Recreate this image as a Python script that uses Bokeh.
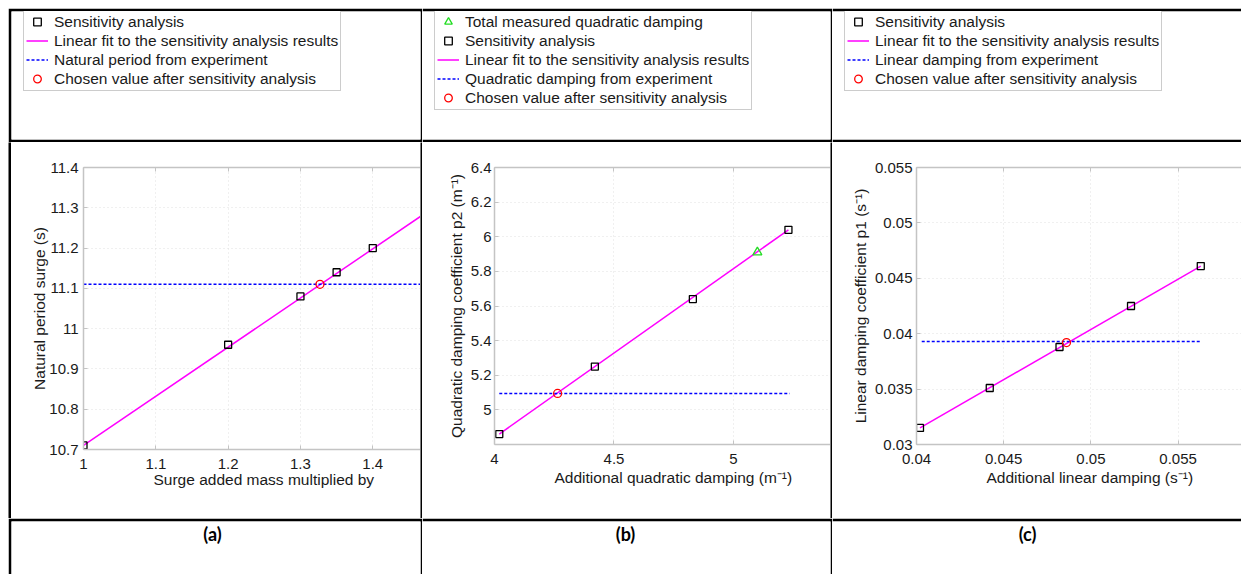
from bokeh.plotting import figure
from bokeh.models import (Range1d, FixedTicker, LinearAxis, Legend, LegendItem,
                          Label, Spacer, Title)
from bokeh.layouts import row, column
from bokeh.embed import file_html
from bokeh.resources import INLINE

FONT = "Liberation Sans"
AXIS_GREY = "#c4c4c4"
TXT = "#1a1a1a"

# ---------------- data: panel (a) ----------------
a_sens_x = [1, 1.2, 1.3, 1.35, 1.4]
a_sens_y = [10.71, 10.96, 11.08, 11.14, 11.20]
a_fit_x = [1.0, 1.5]
a_fit_y = [10.71, 11.32]
a_exp_x = [1.0, 1.5]
a_exp_y = [11.11, 11.11]
a_chosen_x = [1.327]
a_chosen_y = [11.11]
a_xticks = [1, 1.1, 1.2, 1.3, 1.4]
a_xtick_labels = ["1", "1.1", "1.2", "1.3", "1.4"]
a_yticks = [10.7, 10.8, 10.9, 11, 11.1, 11.2, 11.3, 11.4]
a_ytick_labels = ["10.7", "10.8", "10.9", "11", "11.1", "11.2", "11.3", "11.4"]

# ---------------- data: panel (b) ----------------
b_total_x = [5.10]
b_total_y = [5.91]
b_sens_x = [4.02, 4.42, 4.83, 5.23]
b_sens_y = [4.86, 5.25, 5.64, 6.04]
b_fit_x = [4.02, 5.23]
b_fit_y = [4.86, 6.04]
b_exp_x = [4.02, 5.235]
b_exp_y = [5.095, 5.095]
b_chosen_x = [4.264]
b_chosen_y = [5.095]
b_xticks = [4, 4.5, 5]
b_xtick_labels = ["4", "4.5", "5"]
b_yticks = [5, 5.2, 5.4, 5.6, 5.8, 6, 6.2, 6.4]
b_ytick_labels = ["5", "5.2", "5.4", "5.6", "5.8", "6", "6.2", "6.4"]

# ---------------- data: panel (c) ----------------
c_sens_x = [0.0402, 0.0442, 0.0482, 0.0523, 0.0563]
c_sens_y = [0.0315, 0.0351, 0.0388, 0.0425, 0.0461]
c_fit_x = [0.0402, 0.0563]
c_fit_y = [0.0315, 0.0461]
c_exp_x = [0.0403, 0.0563]
c_exp_y = [0.0393, 0.0393]
c_chosen_x = [0.0486]
c_chosen_y = [0.0392]
c_xticks = [0.04, 0.045, 0.05, 0.055]
c_xtick_labels = ["0.04", "0.045", "0.05", "0.055"]
c_yticks = [0.03, 0.035, 0.04, 0.045, 0.05, 0.055]
c_ytick_labels = ["0.03", "0.035", "0.04", "0.045", "0.05", "0.055"]

panel_letters = ["(a)", "(b)", "(c)"]

legend_a = ["Sensitivity analysis",
            "Linear fit to the sensitivity analysis results",
            "Natural period from experiment",
            "Chosen value after sensitivity analysis"]
legend_b = ["Total measured quadratic damping",
            "Sensitivity analysis",
            "Linear fit to the sensitivity analysis results",
            "Quadratic damping from experiment",
            "Chosen value after sensitivity analysis"]
legend_c = ["Sensitivity analysis",
            "Linear fit to the sensitivity analysis results",
            "Linear damping from experiment",
            "Chosen value after sensitivity analysis"]

# ---------------- styles ----------------
STY_SENS = dict(marker="square", size=7, line_color="black", line_width=1.3,
                fill_color=None)
STY_FIT = dict(line_color="#ff00ff", line_width=1.5)
STY_EXP = dict(line_color="#0000ff", line_width=1.5, line_dash="3 2")
STY_CH = dict(marker="circle", size=8, line_color="#ff0000", line_width=1.3,
              fill_color=None)
STY_TOT = dict(marker="triangle", size=9, line_color="#22dd22", line_width=1.3,
               fill_color=None)

TICK_FS = "15px"
LABEL_FS = "15.5px"


def blank(width, height, bl=0, br=0, bt=0, bb=0, border="white", bg="white"):
    p = figure(width=width, height=height, x_range=Range1d(-10, -9),
               y_range=Range1d(-10, -9), output_backend="svg",
               toolbar_location=None, x_axis_location=None,
               y_axis_location=None, min_border_left=bl, min_border_right=br,
               min_border_top=bt, min_border_bottom=bb,
               background_fill_color=bg, border_fill_color=border)
    p.outline_line_color = None
    p.grid.visible = False
    return p


def black_strip(width, height):
    return blank(width, height, border="black", bg="black")


def make_plot(width, border_left, frame_bottom_margin, xr, yr,
              xticks, xlabels, yticks, ylabels, ytitle, xtitle,
              ytick_standoff, ytitle_standoff, xtitle_offset, xtitle_standoff):
    p = figure(width=width, height=376, x_range=Range1d(*xr), y_range=Range1d(*yr),
               output_backend="svg", toolbar_location=None,
               min_border_left=border_left, min_border_right=0,
               min_border_top=25, min_border_bottom=frame_bottom_margin,
               background_fill_color="white", border_fill_color="white")
    p.outline_line_color = None

    xa = p.xaxis[0]
    ya = p.yaxis[0]
    xa.ticker = FixedTicker(ticks=xticks)
    ya.ticker = FixedTicker(ticks=yticks)
    xa.major_label_overrides = dict(zip(xticks, xlabels))
    ya.major_label_overrides = dict(zip(yticks, ylabels))
    for ax in (xa, ya):
        ax.axis_line_color = AXIS_GREY
        ax.axis_line_width = 1.5
        ax.major_tick_line_color = AXIS_GREY
        ax.major_tick_in = 4
        ax.major_tick_out = 0
        ax.minor_tick_line_color = None
        ax.major_label_text_font = FONT
        ax.major_label_text_font_size = TICK_FS
        ax.major_label_text_color = TXT
        ax.axis_label_text_font = FONT
        ax.axis_label_text_font_size = LABEL_FS
        ax.axis_label_text_font_style = "normal"
        ax.axis_label_text_color = TXT
    xa.major_label_standoff = 9
    ya.major_label_standoff = ytick_standoff
    ya.axis_label = ytitle
    ya.axis_label_standoff = ytitle_standoff

    # x-axis title: centred on the full (clipped) axes box, as in the source
    p.add_layout(Title(text=xtitle, align="left", offset=xtitle_offset,
                       standoff=xtitle_standoff, text_font=FONT,
                       text_font_size=LABEL_FS, text_font_style="normal",
                       text_color=TXT), "below")

    top = LinearAxis(ticker=FixedTicker(ticks=xticks))
    top.axis_line_color = AXIS_GREY
    top.axis_line_width = 1.5
    top.major_tick_line_color = AXIS_GREY
    top.major_tick_in = 4
    top.major_tick_out = 0
    top.minor_tick_line_color = None
    top.major_label_text_color = None
    top.major_label_text_font_size = "8px"
    top.major_label_standoff = 0
    p.add_layout(top, "above")

    for g in (p.xgrid[0], p.ygrid[0]):
        g.grid_line_color = "#e0e0e0"
        g.grid_line_dash = "1 3"
        g.grid_line_width = 1
    return p


def draw_common(p, sens_x, sens_y, fit_x, fit_y, exp_x, exp_y, ch_x, ch_y):
    p.line(fit_x, fit_y, **STY_FIT)
    p.line(exp_x, exp_y, **STY_EXP)
    p.scatter(sens_x, sens_y, **STY_SENS)
    p.scatter(ch_x, ch_y, **STY_CH)
    return {"sens": (sens_x, sens_y), "fit": (fit_x, fit_y),
            "exp": (exp_x, exp_y), "ch": (ch_x, ch_y)}


def legend_fig(width, bl, br, labels, entries, x, y):
    # the legend figure's ranges keep these series outside its frame,
    # so only the legend keys are visible
    p = blank(width, 134, bl=bl, br=br, bt=3, bb=3, border="black", bg="white")
    items = []
    for lab, (kind, sty, (xs, ys)) in zip(labels, entries):
        if kind == "line":
            r = p.line(xs, ys, **sty)
        else:
            r = p.scatter(xs, ys, **sty)
        items.append(LegendItem(label=lab, renderers=[r]))
    leg = Legend(items=items, location=(x, y),
                 label_text_font=FONT, label_text_font_size=LABEL_FS,
                 label_text_color=TXT, border_line_color="#9a9a9a",
                 border_line_width=1, background_fill_color="white",
                 background_fill_alpha=1.0, padding=2, spacing=0,
                 glyph_width=22, glyph_height=19, label_height=19,
                 label_standoff=6, margin=0)
    p.add_layout(leg)
    return p


def label_fig(width, bl, br, text, x):
    p = blank(width, 56, bl=bl, br=br, bt=3, bb=0, border="black", bg="white")
    p.add_layout(Label(x=x, y=41, x_units="screen", y_units="screen", text=text,
                       text_align="center", text_baseline="middle",
                       text_font="Lato", text_font_size="18px",
                       text_font_style="bold", text_color="black"))
    return p


# ---------------- plots row ----------------
pa = make_plot(409, 72, 69, (1.0, 1.466), (10.7, 11.4),
               a_xticks, a_xtick_labels, a_yticks, a_ytick_labels,
               "Natural period surge (s)", "Surge added mass multiplied by",
               5, -2, 70, -6)
da = draw_common(pa, a_sens_x, a_sens_y, a_fit_x, a_fit_y, a_exp_x, a_exp_y,
                 a_chosen_x, a_chosen_y)

pb = make_plot(408, 72, 74, (4.0, 5.406), (4.8, 6.4),
               b_xticks, b_xtick_labels, b_yticks, b_ytick_labels,
               "Quadratic damping coefficient p2 (m\u207b\u00b9)",
               "Additional quadratic damping (m\u207b\u00b9)", 3, 3, 60, 1)
db = draw_common(pb, b_sens_x, b_sens_y, b_fit_x, b_fit_y, b_exp_x, b_exp_y,
                 b_chosen_x, b_chosen_y)
pb.scatter(b_total_x, b_total_y, **STY_TOT)

pc = make_plot(409, 84, 74, (0.04, 0.058635), (0.03, 0.055),
               c_xticks, c_xtick_labels, c_yticks, c_ytick_labels,
               "Linear damping coefficient p1 (s\u207b\u00b9)",
               "Additional linear damping (s\u207b\u00b9)", 4, 3, 70, 1)
dc = draw_common(pc, c_sens_x, c_sens_y, c_fit_x, c_fit_y, c_exp_x, c_exp_y,
                 c_chosen_x, c_chosen_y)


def std_entries(d):
    return [("scatter", STY_SENS, d["sens"]), ("line", STY_FIT, d["fit"]),
            ("line", STY_EXP, d["exp"]), ("scatter", STY_CH, d["ch"])]


# ---------------- legends row ----------------
lg_a = legend_fig(414, 3, 2, legend_a, std_entries(da), 12, 48)
lg_b = legend_fig(410, 0, 2, legend_b,
                  [("scatter", STY_TOT, (b_total_x, b_total_y))] + std_entries(db),
                  12, 29)
lg_c = legend_fig(409, 0, 0, legend_c, std_entries(dc), 12, 48)

# ---------------- label row ----------------
lb_a = label_fig(414, 3, 2, panel_letters[0], 201)
lb_b = label_fig(410, 0, 2, panel_letters[1], 203)
lb_c = label_fig(409, 0, 0, panel_letters[2], 195)

layout = column(
    Spacer(width=1241, height=8),
    row(Spacer(width=8, height=134), lg_a, lg_b, lg_c, spacing=0),
    row(Spacer(width=8, height=376), black_strip(3, 376), column(pa, spacing=0),
        black_strip(2, 376), column(pb, spacing=0), black_strip(2, 376),
        column(pc, spacing=0), spacing=0),
    row(Spacer(width=8, height=56), lb_a, lb_b, lb_c, spacing=0),
    spacing=0,
)
open("out.html", "w").write(file_html(layout, INLINE))
